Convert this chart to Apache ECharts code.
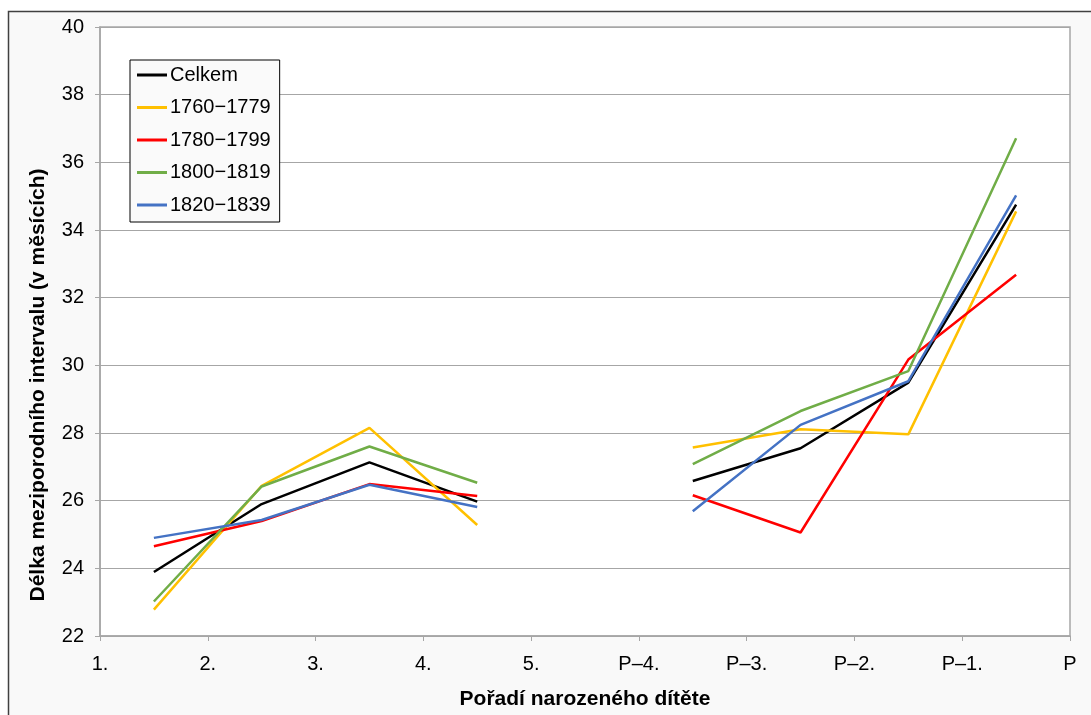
<!DOCTYPE html>
<html>
<head>
<meta charset="utf-8">
<script src="https://cdn.jsdelivr.net/npm/echarts@6/dist/echarts.min.js"></script>
<style>
html,body{margin:0;padding:0;background:#fff;}
#chart{width:1091px;height:715px;}
</style>
</head>
<body>
<div id="chart"></div>
<script>
var tickLabels = ['1.', '2.', '3.', '4.', '5.', 'P\u20134.', 'P\u20133.', 'P\u20132.', 'P\u20131.', 'P'];
var seriesNames = ['Celkem', '1760\u22121779', '1780\u22121799', '1800\u22121819', '1820\u22121839'];
var xAxisTitle = 'Pořadí narozeného dítěte';
var yAxisTitle = 'Délka meziporodního intervalu (v měsících)';
var celkem   = [23.89, 25.90, 27.13, 25.97, null, 26.58, 27.55, 29.49, 34.75];
var s1760    = [22.78, 26.44, 28.15, 25.28, null, 27.57, 28.11, 27.96, 34.55];
var s1780    = [24.65, 25.40, 26.49, 26.14, null, 26.16, 25.06, 30.17, 32.68];
var s1800    = [23.02, 26.42, 27.60, 26.53, null, 27.08, 28.65, 29.83, 36.71];
var s1820    = [24.90, 25.43, 26.47, 25.81, null, 25.69, 28.24, 29.53, 35.02];
var colors = ['#000000', '#FFC000', '#FF0000', '#70AD47', '#4472C4'];

var allValues = [celkem, s1760, s1780, s1800, s1820];
function toPoints(arr) {
  return arr.map(function (v, i) { return [i + 0.5, v]; });
}
var series = allValues.map(function (arr, k) {
  return {
    name: seriesNames[k],
    type: 'line',
    data: toPoints(arr),
    symbol: 'none',
    connectNulls: false,
    lineStyle: { width: 2.5, color: colors[k] },
    itemStyle: { color: colors[k] }
  };
});

var FONT = 'Liberation Sans, Arial, sans-serif';
var chart = echarts.init(document.getElementById('chart'));
chart.setOption({
  animation: false,
  backgroundColor: '#ffffff',
  textStyle: { fontFamily: FONT },
  graphic: [{
    type: 'rect',
    z: -10,
    shape: { x: 8.5, y: 11.5, width: 1100, height: 720 },
    style: { fill: '#f9f9f9', stroke: '#404040', lineWidth: 1.5 }
  }, {
    type: 'text',
    x: 38, y: 385,
    rotation: Math.PI / 2,
    style: {
      text: yAxisTitle,
      font: 'bold 21px ' + FONT,
      fill: '#000',
      align: 'center',
      verticalAlign: 'middle'
    }
  }],
  grid: {
    left: 100, right: 21, top: 27, bottom: 78,
    show: true, backgroundColor: '#ffffff', borderColor: '#a6a6a6', borderWidth: 1.5
  },
  legend: {
    orient: 'vertical',
    left: 130, top: 60,
    icon: 'rect',
    itemWidth: 30, itemHeight: 3,
    itemGap: 12.5,
    padding: [5, 9, 7, 7],
    backgroundColor: '#fafafa',
    borderColor: '#000000',
    borderWidth: 1,
    textStyle: { fontSize: 20, color: '#000', padding: [0, 0, 0, -2], fontFamily: FONT, lineHeight: 20 },
    data: seriesNames
  },
  xAxis: {
    type: 'value',
    min: 0, max: 9, interval: 1,
    name: xAxisTitle,
    nameLocation: 'middle',
    nameGap: 53,
    nameTextStyle: { fontSize: 21, fontWeight: 'bold', color: '#000', fontFamily: FONT },
    axisLine: { lineStyle: { color: '#a6a6a6', width: 1.5 } },
    axisTick: { show: true, length: 5, lineStyle: { color: '#a6a6a6' } },
    splitLine: { show: false },
    axisLabel: {
      fontSize: 20, color: '#000', margin: 18, fontFamily: FONT,
      showMinLabel: true, showMaxLabel: true,
      formatter: function (v) { return tickLabels[Math.round(v)]; }
    }
  },
  yAxis: {
    type: 'value',
    min: 22, max: 40, interval: 2,
    axisLine: { show: true, lineStyle: { color: '#a6a6a6', width: 1.5 } },
    axisTick: { show: true, length: 5, lineStyle: { color: '#a6a6a6' } },
    splitLine: { lineStyle: { color: '#a6a6a6', width: 1 } },
    axisLabel: { fontSize: 20, color: '#000', margin: 16, fontFamily: FONT }
  },
  series: series
});
</script>
</body>
</html>
